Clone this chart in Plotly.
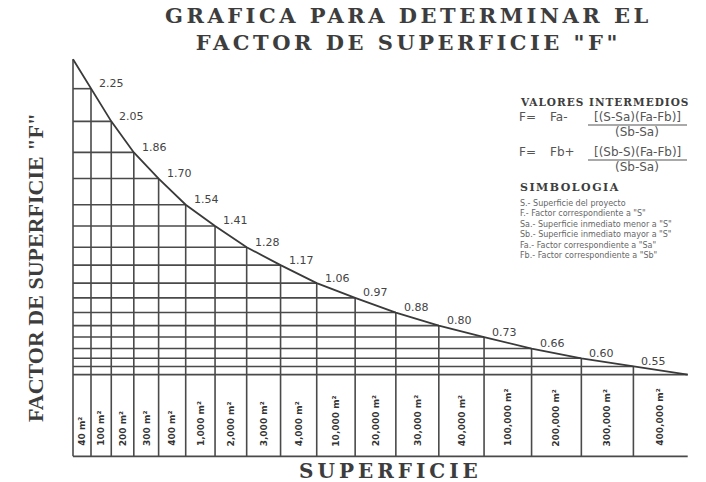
import numpy as np
import plotly.graph_objects as go

# Surface classes along the horizontal axis
superficies = ["40 m²", "100 m²", "200 m²", "300 m²", "400 m²", "1,000 m²", "2,000 m²",
               "3,000 m²", "4,000 m²", "10,000 m²", "20,000 m²", "30,000 m²", "40,000 m²",
               "100,000 m²", "200,000 m²", "300,000 m²", "400,000 m²"]

# Factor "F" at each column boundary
factor_inicio = 2.43
factores = [2.25, 2.05, 1.86, 1.70, 1.54, 1.41, 1.28, 1.17, 1.06, 0.97,
            0.88, 0.80, 0.73, 0.66, 0.60, 0.55]
factor_final = 0.50
etiquetas = [f"{v:.2f}" for v in factores]

# ---- layout helpers ----
W, H = 706, 482
ML, MR, MT, MB = 72, 16, 56, 24
n_col = len(superficies)
anchos = 18 + 2.27 * np.arange(n_col)          # columns widen to the right
bordes = np.concatenate([[0.0], np.cumsum(anchos)])
curva = [factor_inicio] + factores + [factor_final]

INK = "#3a3a3a"
GRID = "#4a4a4a"


def paper(px, py):
    """Canvas pixel -> paper fraction."""
    pw, ph = W - ML - MR, H - MT - MB
    return (px - ML) / pw, (H - MB - py) / ph


def spaced(text, ls):
    return f'<span style="letter-spacing:{ls}px">{text}</span>'


# Grid: verticals from base to curve, horizontals from left edge to curve
gx, gy = [], []
for i in range(len(bordes) - 1):
    gx += [bordes[i], bordes[i], None]
    gy += [0, curva[i], None]
for i in range(1, len(bordes)):
    gx += [0, bordes[i], None]
    gy += [curva[i], curva[i], None]
gx += [0, bordes[-1], None]
gy += [0, 0, None]

fig = go.Figure()
fig.add_trace(go.Scatter(x=gx, y=gy, mode="lines", hoverinfo="skip",
                         line=dict(color=GRID, width=1.6), showlegend=False))
fig.add_trace(go.Scatter(x=bordes, y=curva, mode="lines",
                         line=dict(color=INK, width=1.8), showlegend=False))

ann = []
shapes = []
# value labels along the curve
for xb, v, t in zip(bordes[1:-1], factores, etiquetas):
    ann.append(dict(x=xb, y=v, text=t, xref="x", yref="y", showarrow=False,
                    xanchor="left", yanchor="middle", xshift=6, yshift=5,
                    font=dict(family="DejaVu Sans", size=11, color="#444")))
# surface labels in each column
for i, s in enumerate(superficies):
    ann.append(dict(x=(bordes[i] + bordes[i + 1]) / 2, y=0.05, text=s,
                    xref="x", yref="y", showarrow=False, textangle=-90,
                    xanchor="center", yanchor="bottom",
                    font=dict(family="DejaVu Sans", size=9, color="#333", weight="bold")))

serif_b = dict(family="DejaVu Serif", color="#3d3d3d", weight="bold")


def text_at(px, py, text, font, xa="center", ya="middle", angle=0, align="center"):
    x, y = paper(px, py)
    ann.append(dict(x=x, y=y, xref="paper", yref="paper", text=text, showarrow=False,
                    xanchor=xa, yanchor=ya, textangle=angle, align=align, font=font))


def bar_at(px0, px1, py):
    x0, y0 = paper(px0, py)
    x1, _ = paper(px1, py)
    shapes.append(dict(type="line", xref="paper", yref="paper", x0=x0, x1=x1, y0=y0, y1=y0,
                       line=dict(color="#555", width=1.2)))


text_at(408, 29, spaced("GRAFICA PARA DETERMINAR EL", 3.5) + "<br>"
        + spaced('FACTOR DE SUPERFICIE "F"', 3.5), dict(serif_b, size=21))
text_at(390, 471, spaced("SUPERFICIE", 4), dict(serif_b, size=20))
text_at(35, 268, 'FACTOR DE SUPERFICIE "F"',
        dict(family="Liberation Serif", color="#3d3d3d", weight="bold", size=22), angle=-90)

# intermediate values block
text_at(518, 102, spaced("VALORES INTERMEDIOS", 1), dict(serif_b, size=10.5), xa="left")
sans = dict(family="DejaVu Sans", color="#555", size=12)
text_at(517, 117, "F=", sans, xa="left")
text_at(548, 117, "Fa-", sans, xa="left")
text_at(637, 117, "[(S-Sa)(Fa-Fb)]", sans)
bar_at(588, 687, 125)
text_at(637, 132, "(Sb-Sa)", sans)
text_at(517, 152, "F=", sans, xa="left")
text_at(548, 152, "Fb+", sans, xa="left")
text_at(637, 152, "[(Sb-S)(Fa-Fb)]", sans)
bar_at(588, 687, 160)
text_at(637, 167, "(Sb-Sa)", sans)

text_at(518, 188, spaced("SIMBOLOGIA", 1.5), dict(serif_b, size=11), xa="left")
simbologia = [
    "S.- Superficie del proyecto",
    'F.- Factor correspondiente a "S"',
    'Sa.- Superficie inmediato menor a "S"',
    'Sb.- Superficie inmediato mayor a "S"',
    'Fa.- Factor correspondiente a "Sa"',
    'Fb.- Factor correspondiente a "Sb"',
]
text_at(518, 197, "<br>".join(simbologia),
        dict(family="DejaVu Sans", color="#666", size=8), xa="left", ya="top", align="left")

fig.update_layout(
    width=W, height=H, margin=dict(l=ML, r=MR, t=MT, b=MB),
    paper_bgcolor="white", plot_bgcolor="white",
    xaxis=dict(range=[-1, 617], visible=False, fixedrange=True),
    yaxis=dict(range=[-0.01, 2.45], visible=False, fixedrange=True),
    annotations=ann, shapes=shapes,
)

fig.write_html("out.html")
